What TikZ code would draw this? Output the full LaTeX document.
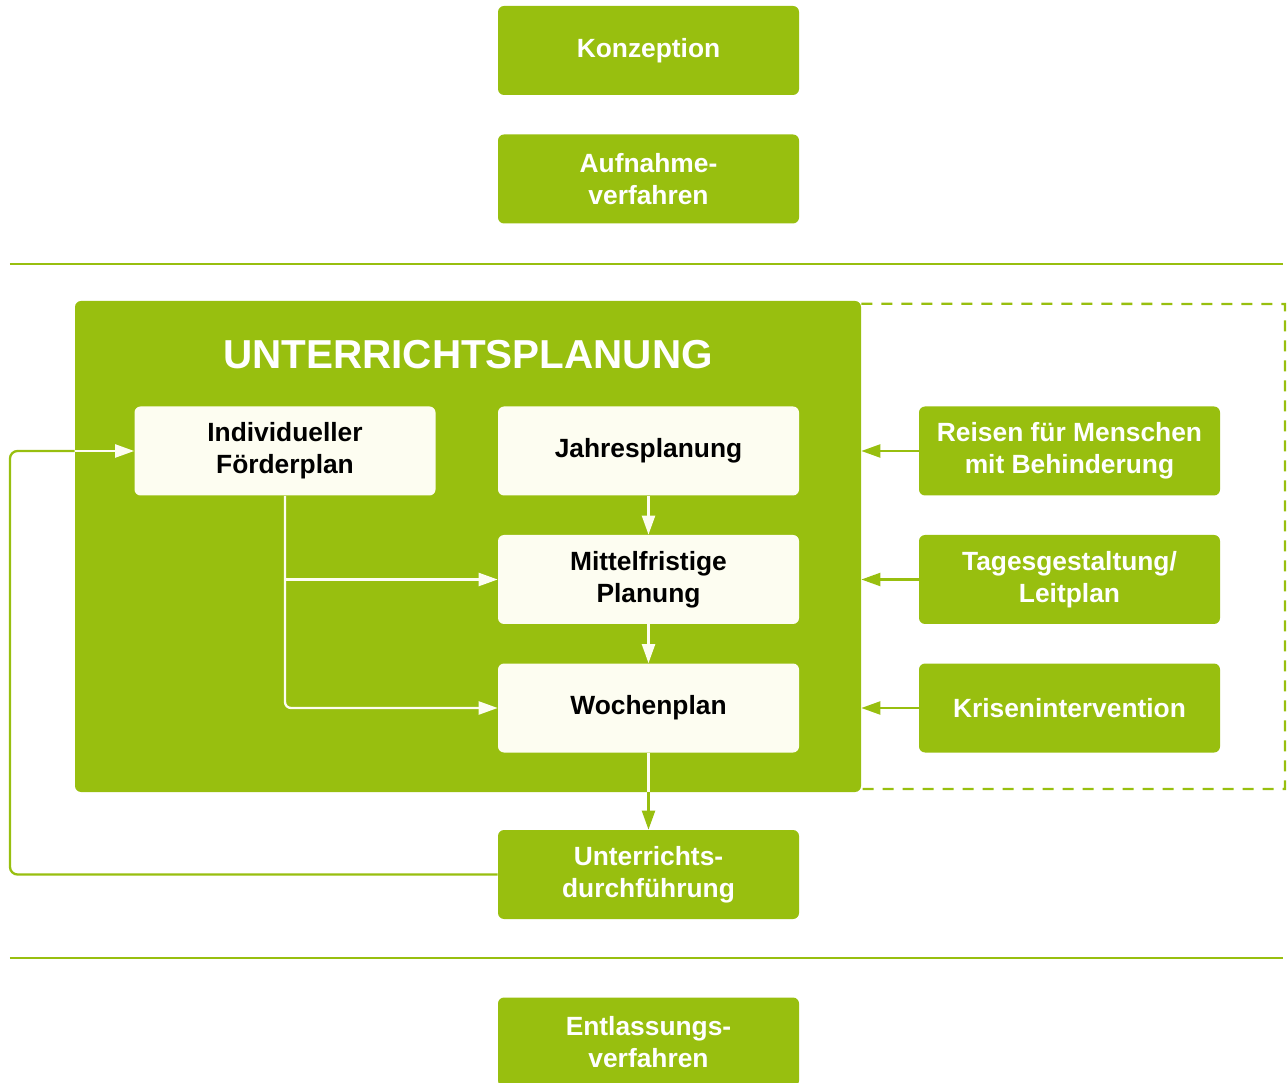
\documentclass[tikz,border=0pt]{standalone}
\usepackage{fontspec}
\setmainfont{Liberation Sans}
\usetikzlibrary{arrows.meta,positioning}

\definecolor{leafgreen}{HTML}{98BF0F}
\definecolor{paper}{HTML}{FDFDF1}

\begin{document}
\begin{tikzpicture}[node distance=2.57cm,>={Triangle[length=3.8mm,width=2.6mm]},
    font=\bfseries\fontsize{15}{18.2}\selectfont]

    \tikzstyle{greenbox}=[rectangle,rounded corners=0.12cm,fill=leafgreen,text=white,align=center,
                          minimum width=6.02cm,minimum height=1.78cm,inner sep=0pt]
    \tikzstyle{whitebox}=[greenbox,fill=paper,text=black]
    \tikzstyle{wire}=[draw=leafgreen,line width=1.3pt]
    \tikzstyle{inwire}=[draw=paper,line width=1.3pt]

    \useasboundingbox (0,0) rectangle (25.74,-21.66);

    % top phase
    \node [greenbox] (konz) at (12.97,-1.01) {Konzeption};
    \node [greenbox] (aufn) [below of=konz] {Aufnahme-\\verfahren};
    \draw [wire] (0.2,-5.28) -- (25.66,-5.28);

    % planning block
    \node [fill=leafgreen,rounded corners=0.12cm,minimum width=15.72cm,minimum height=9.82cm,inner sep=0pt]
        (plan) at (9.36,-10.93) {};
    \node [text=white,font=\bfseries\fontsize{23}{28}\selectfont] (title) at (9.36,-7.1) {UNTERRICHTSPLANUNG};
    \draw [wire,dashed,dash pattern=on 0.22cm off 0.18cm] (plan.north east) ++(0,-0.06)
        -- (25.7,-6.08) -- (25.7,-15.78) -- (17.22,-15.78);

    \node [whitebox] (jahr) at (12.97,-9.02) {Jahresplanung};
    \node [whitebox] (mittel) [below of=jahr] {Mittelfristige\\Planung};
    \node [whitebox] (woch) [below of=mittel] {Wochenplan};
    \node [whitebox] (foerd) [left of=jahr,node distance=7.27cm] {Individueller\\Förderplan};

    \node [greenbox] (reisen) [right of=jahr,node distance=8.42cm] {Reisen für Menschen\\mit Behinderung};
    \node [greenbox] (tages) [below of=reisen] {Tagesgestaltung/\\Leitplan};
    \node [greenbox] (krise) [below of=tages] {Krisenintervention};

    % bottom phase
    \node [greenbox] (durch) [below of=woch,node distance=3.33cm] {Unterrichts-\\durchführung};
    \draw [wire] (0.2,-19.16) -- (25.66,-19.16);
    \node [greenbox] (entl) [below of=durch,node distance=3.35cm] {Entlassungs-\\verfahren};

    % connectors
    \coordinate (rim) at (0.2,0);
    \draw [->,inwire] (jahr) -- (mittel);
    \draw [->,inwire] (mittel) -- (woch);
    \draw [->,wire] (woch) -- (durch);
    \draw [inwire] (woch.south) -- (woch.south |- plan.south);
    \draw [->,inwire] (foerd.south) |- (mittel.west);
    \draw [->,inwire,rounded corners=0.12cm] (foerd.south) |- (woch.west);
    \draw [wire,rounded corners=0.15cm] (durch.west) -| (rim |- foerd.west) -- (plan.west |- foerd.west);
    \draw [->,inwire] (plan.west |- foerd.west) -- (foerd.west);
    \draw [->,wire] (reisen) -- (reisen -| plan.east);
    \draw [->,wire] (tages) -- (tages -| plan.east);
    \draw [->,wire] (krise) -- (krise -| plan.east);
\end{tikzpicture}
\end{document}
